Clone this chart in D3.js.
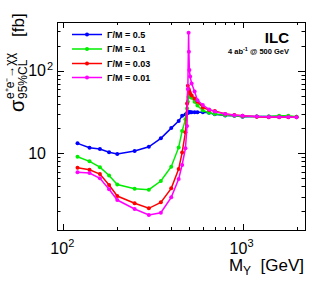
<!DOCTYPE html>
<html><head><meta charset="utf-8">
<script src="https://cdn.jsdelivr.net/npm/d3@7"></script>
<style>body{margin:0;background:#fff;} text{font-family:"Liberation Sans",Arial,sans-serif;}</style>
</head><body><svg id="c" width="332" height="281"></svg>
<script>
// ---- data ----
const masses = [120,140,160,180,200,250,300,350,400,440,460,480,490,495,500,502,505,510,520,540,560,600,650,700,800,900,1000,1200,1400,1600,1800,2000];
const sigmaW050 = [13.2,11.7,11.3,10.3,9.8,10.7,12.0,15.2,20.2,24.6,28.5,29.5,30.5,31,31.5,31.5,31.5,31.5,31.5,31.5,31.5,31.5,31,29.7,28.8,28.5,27.8,28,28,28,27.8,27.8];
const sigmaW010 = [9.1,8.0,6.8,5.4,4.2,3.73,3.63,4.62,6.88,11.8,18.6,25.8,35,42,48,49,50,49,47,42,38,33,31,30,29,28.5,28,28,28,28.5,28.5,27.8];
const sigmaW003 = [6.69,6.33,5.62,4.14,3.04,2.49,2.16,2.55,3.77,6.45,10.2,18,40,66,60,58,56,53,50,46,42,36,33.4,32.5,30,29.1,28.5,27.8,27.3,27.3,27.3,27.3];
const sigmaW001 = [5.89,5.78,4.98,3.67,2.72,2.12,1.79,1.91,2.93,4.89,7.22,11.5,21.4,60,288,170,102,85,70,56,44,38.4,34,32,30,29,28.5,28,27.5,27.5,27.5,27.3];
const seriesLabels = ["\u0393/M = 0.5","\u0393/M = 0.1","\u0393/M = 0.03","\u0393/M = 0.01"];
const xMajorTicks = [100,1000];
const xTickExp = ["2","3"];
const yMajorTicks = [10,100];
const yTickExp = ["","2"];

// ---- chart ----
const svg = d3.select("#c");
const L=57,R=305,T=22,B=230;
const x = d3.scaleLog().domain([92.2,2230]).range([L,R]);
const y = d3.scaleLog().domain([1.18,389]).range([B,T]);
const colors = ["#0000ff","#00ee00","#ff0000","#ff00ff"];
const series = [sigmaW050,sigmaW010,sigmaW003,sigmaW001];

function minors(dom){
  const out=[];
  for(let p=Math.floor(Math.log10(dom[0]));p<=Math.ceil(Math.log10(dom[1]));p++){
    for(let k=1;k<10;k++){const v=k*Math.pow(10,p); if(v>=dom[0]&&v<=dom[1]) out.push({v,major:k===1});}
  }
  return out;
}
const g = svg.append("g").attr("stroke","#000").attr("stroke-width",1);
minors(x.domain()).forEach(t=>{
  const px=Math.round(x(t.v))+0.5, len=t.major?6:3;
  g.append("line").attr("x1",px).attr("x2",px).attr("y1",B).attr("y2",B-len);
  g.append("line").attr("x1",px).attr("x2",px).attr("y1",T).attr("y2",T+len);
});
minors(y.domain()).forEach(t=>{
  const py=Math.round(y(t.v))+0.5, len=t.major?7:3.5;
  g.append("line").attr("y1",py).attr("y2",py).attr("x1",L).attr("x2",L+len);
  g.append("line").attr("y1",py).attr("y2",py).attr("x1",R).attr("x2",R-len);
});
svg.append("rect").attr("x",L+0.5).attr("y",T+0.5).attr("width",R-L).attr("height",B-T)
  .attr("fill","none").attr("stroke","#000").attr("stroke-width",1);

// tick labels
xMajorTicks.forEach((v,i)=>{
  const t=svg.append("text").attr("x",x(v)-1).attr("y",254).attr("text-anchor","middle").attr("font-size",16);
  t.append("tspan").text("10");
  t.append("tspan").attr("font-size",11).attr("dy",-7).text(xTickExp[i]);
});
yMajorTicks.forEach((v,i)=>{
  svg.append("text").attr("x",46).attr("y",y(v)+5.5).attr("text-anchor","end").attr("font-size",16).text("10");
  if(yTickExp[i]) svg.append("text").attr("x",47).attr("y",y(v)-1).attr("font-size",11).text(yTickExp[i]);
});

// axis titles
const xt=svg.append("text").attr("x",304).attr("y",271).attr("text-anchor","end").attr("font-size",17).attr("xml:space","preserve");
xt.append("tspan").text("M");
xt.append("tspan").attr("font-size",12).attr("dy",4).text("Y");
xt.append("tspan").attr("dy",-4).text("  [GeV]");

const yt=svg.append("g").attr("transform","translate(24,112) rotate(-90)");
yt.append("text").attr("x",0).attr("y",0).attr("font-size",20).text("\u03c3");
yt.append("text").attr("x",13).attr("y",-10).attr("font-size",12).text("e\u207ae\u207b\u2192\u03c7\u03c7");
yt.append("text").attr("x",13).attr("y",3).attr("font-size",12).text("95%CL");
yt.append("text").attr("x",75).attr("y",0).attr("font-size",17).text("[fb]");

// series
const line=d3.line().x((d,i)=>x(masses[i])).y(d=>y(d));
series.forEach((s,k)=>{
  svg.append("path").attr("d",line(s)).attr("fill","none").attr("stroke",colors[k]).attr("stroke-width",1.5);
  svg.append("g").selectAll("circle").data(s).join("circle")
    .attr("cx",(d,i)=>x(masses[i])).attr("cy",d=>y(d)).attr("r",2).attr("fill",colors[k]);
});

// legend
const rows=[34.5,49,63.5,77.5];
seriesLabels.forEach((lab,k)=>{
  svg.append("line").attr("x1",72).attr("x2",102).attr("y1",rows[k]).attr("y2",rows[k]).attr("stroke",colors[k]).attr("stroke-width",1.5);
  svg.append("circle").attr("cx",87).attr("cy",rows[k]).attr("r",2).attr("fill",colors[k]);
  svg.append("text").attr("x",107).attr("y",rows[k]+3.2).attr("font-size",9).attr("font-weight","bold").text(lab);
});

// annotations
svg.append("text").attr("x",289).attr("y",43).attr("text-anchor","end").attr("font-size",15).attr("font-weight","bold").text("ILC");
const an=svg.append("text").attr("x",289).attr("y",54).attr("text-anchor","end").attr("font-size",7.5).attr("font-weight","bold");
an.append("tspan").text("4 ab");
an.append("tspan").attr("font-size",5.5).attr("dy",-3).text("-1");
an.append("tspan").attr("dy",3).text(" @ 500 GeV");
</script></body></html>
